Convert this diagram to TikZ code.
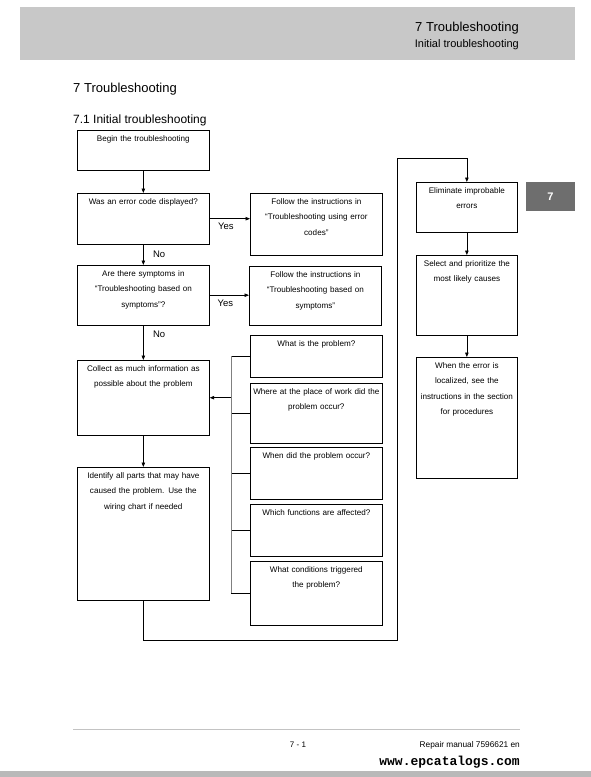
\documentclass[tikz,border=0pt]{standalone}
\usepackage{fontspec}
\setmainfont{Liberation Sans}
\setmonofont{Liberation Mono}
\usetikzlibrary{arrows.meta}

\definecolor{headgray}{RGB}{200,200,200}
\definecolor{tabgray}{RGB}{110,110,110}
\definecolor{rulegray}{RGB}{195,195,195}

\tikzset{
  stepbox/.style={draw, line width=0.7pt, anchor=north west, align=center,
    inner xsep=1pt, inner ysep=3.6pt, text height=7.5pt, text depth=#1,
    font=\fontsize{8.1}{15.5}\selectfont},
  widebox/.style={stepbox=#1, text width=130pt},
  narrowbox/.style={stepbox=#1, text width=99pt},
  flow/.style={line width=0.7pt, -{Triangle[length=4.5pt,width=3.5pt]}},
  tag/.style={font=\fontsize{9.5}{11}\selectfont}
}

\begin{document}
\begin{tikzpicture}[x=1pt,y=-1pt]
\useasboundingbox (0,0) rectangle (591,777);

% Page header
\fill[headgray] (20,7) rectangle (575,60);
\node[anchor=base east, inner sep=0pt, font=\fontsize{13}{15}\selectfont] (htitle) at (519,31)
{7 Troubleshooting};
\node[anchor=base east, inner sep=0pt, font=\fontsize{11}{13}\selectfont] (hsub) at (519,47)
{Initial troubleshooting};

% Headings
\node[anchor=base west, inner sep=0pt, font=\fontsize{13}{15}\selectfont] (chap) at (73,92)
{7 Troubleshooting};
\node[anchor=base west, inner sep=0pt, font=\fontsize{12}{14}\selectfont] (sec) at (73,123)
{7.1 Initial troubleshooting};

% Chapter tab
\fill[tabgray] (526,182) rectangle (575,211);
\node[text=white, font=\bfseries\fontsize{11}{13}\selectfont] (tab) at (550.5,196.5) {7};

%--------------------------------------------------
% Main column
%--------------------------------------------------
\node[widebox=25pt] (begin) at (77,130)
{Begin the troubleshooting};

\node[widebox=36pt] (errq) at (77,193)
{Was an error code displayed?};

\node[widebox=47pt] (errf) at (250,193)
{Follow the instructions in\\``Troubleshooting using error\\codes''};

\node[widebox=45pt] (symq) at (77,265)
{Are there symptoms in\\``Troubleshooting based on\\symptoms''?};

\node[widebox=44pt] (symf) at (249,266)
{Follow the instructions in\\``Troubleshooting based on\\symptoms''};

\node[widebox=60pt] (collect) at (77,360)
{Collect as much information as\\possible about the problem};

\node[widebox=118pt] (ident) at (77,467)
{Identify all parts that may have\\caused the problem. Use the\\wiring chart if needed};

\draw[flow] (begin.south) -- (errq.north);
\draw[flow] (errq.east) -- (errq.east -| errf.west)
  node[tag, pos=0.4, below=1pt] {Yes};
\draw[flow] (errq.south) -- (symq.north)
  node[tag, midway, right=6pt] {No};
\draw[flow] (symq.east) -- (symq.east -| symf.west)
  node[tag, pos=0.4, below=1pt] {Yes};
\draw[flow] (symq.south) -- (collect.north)
  node[tag, pos=0.25, right=6pt] {No};
\draw[flow] (collect.south) -- (ident.north);

%--------------------------------------------------
% Questions
%--------------------------------------------------
\node[widebox=27pt] (q1) at (250,335) {What is the problem?};
\node[widebox=45pt] (q2) at (250,383) {Where at the place of work did the\\problem occur?};
\node[widebox=37pt] (q3) at (250,447) {When did the problem occur?};
\node[widebox=37pt] (q4) at (250,504) {Which functions are affected?};
\node[widebox=49pt] (q5) at (250,561) {What conditions triggered\\the problem?};

\coordinate (bus) at (231,0);
\foreach \q in {q1,q2,q3,q4,q5}
  \draw[line width=0.7pt] (\q.west) -- (\q.west -| bus);
\draw[gray, line width=0.7pt] (q1.west -| bus) -- (q5.west -| bus);
\draw[flow] (collect.east -| bus) -- (collect.east);

%--------------------------------------------------
% Right column
%--------------------------------------------------
\node[narrowbox=35pt] (elim) at (416,182)
{Eliminate improbable\\errors};

\node[narrowbox=65pt] (select) at (416,255)
{Select and prioritize the\\most likely causes};

\node[narrowbox=106pt] (local) at (416,357)
{When the error is\\localized, see the\\instructions in the section\\for procedures};

\coordinate (loopb) at (397,640);
\coordinate (loopt) at (397,158);
\draw[flow] (ident.south) |- (loopb) -- (loopt) -| (elim.north);
\draw[flow] (elim.south) -- (select.north);
\draw[flow] (select.south) -- (local.north);

% Page footer
\draw[rulegray, line width=0.6pt] (73,729) -- (520,729);
\node[anchor=base, inner sep=0pt, font=\fontsize{8}{9}\selectfont] (pno) at (298,747) {7 - 1};
\node[anchor=base east, inner sep=0pt, font=\fontsize{8.3}{9}\selectfont] (manual) at (520,747)
{Repair manual 7596621 en};
\node[anchor=base east, inner sep=0pt, font=\ttfamily\bfseries\fontsize{13}{15}\selectfont] (www) at (520,765)
{www.epcatalogs.com};
\fill[gray!55] (0,771) rectangle (591,777);

\end{tikzpicture}
\end{document}
